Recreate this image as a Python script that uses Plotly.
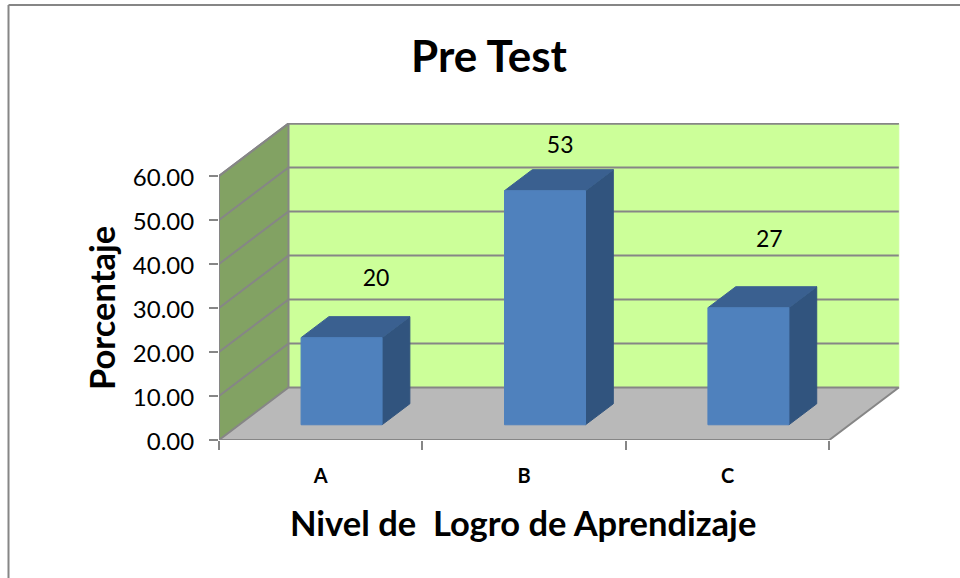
import plotly.graph_objects as go

# ---- data ----
categories = ["A", "B", "C"]
values = [20, 53, 27]
bar_tops = [19.8, 53.2, 26.6]
y_ticks = [0, 10, 20, 30, 40, 50, 60]

# ---- geometry / style ----
W, H = 960, 578
L, R, T, B = 219, 900, 123, 440
UX = (829.3 - 219) / 3
UY = (439 - 175) / 60
DX, DY = 69.5 / UX, 52.5 / UY
BAR_W = 81 / UX
BAR_DEPTH = 0.4
BAR_FRONT_X = 0.3
BAR_FRONT_Y = 0.29
N = len(categories)
Y_MAX = max(y_ticks)
GRID = "#868686"
FONT = "Lato"
LABEL_SHIFT = [(0.272, 16.2), (0.177, 13.6), (0.205, 18.1)]


def poly(xs, ys, fill, line=None, width=1):
    return go.Scatter(
        x=xs + xs[:1], y=ys + ys[:1], mode="lines", fill="toself", fillcolor=fill,
        line=dict(color=line or fill, width=width), hoverinfo="skip",
        showlegend=False, cliponaxis=False,
    )


def path(xs, ys, color=GRID, width=2):
    return go.Scatter(
        x=xs, y=ys, mode="lines", line=dict(color=color, width=width),
        hoverinfo="skip", showlegend=False, cliponaxis=False,
    )


fig = go.Figure()

# walls and floor
fig.add_trace(poly([DX, N + DX, N + DX, DX], [DY, DY, Y_MAX + DY, Y_MAX + DY], "#CCFF99"))
fig.add_trace(poly([0, DX, DX, 0], [0, DY, Y_MAX + DY, Y_MAX], "#82A263"))
fig.add_trace(poly([0, N, N + DX, DX], [0, 0, DY, DY], "#B9B9B9"))

# gridlines on the side wall and the back wall
for t in y_ticks[1:]:
    fig.add_trace(path([0, DX, N + DX], [t, t + DY, t + DY]))

# frame edges
fig.add_trace(path([0, 0, DX, DX], [0, Y_MAX, Y_MAX + DY, DY]))
fig.add_trace(path([DX, N + DX], [Y_MAX + DY, Y_MAX + DY]))
fig.add_trace(path([0, DX, N + DX, N], [0, DY, DY, 0]))
fig.add_trace(path([0, N], [0, 0]))

# bars
fx = BAR_FRONT_X * DX
fy = BAR_FRONT_Y * DY
bx = BAR_DEPTH * DX
by = BAR_DEPTH * DY
for i, top in enumerate(bar_tops):
    x0 = i + 0.5 - BAR_W / 2 + fx
    x1 = x0 + BAR_W
    y0 = fy
    y1 = top + fy
    fig.add_trace(poly([x1, x1 + bx, x1 + bx, x1], [y0, y0 + by, y1 + by, y1], "#31547E"))
    fig.add_trace(poly([x0, x1, x1 + bx, x0 + bx], [y1, y1, y1 + by, y1 + by], "#3A6090"))
    fig.add_trace(poly([x0, x1, x1, x0], [y0, y0, y1, y1], "#4F81BD"))

# value labels
fig.add_trace(go.Scatter(
    x=[i + 0.5 + LABEL_SHIFT[i][0] for i in range(N)],
    y=[v + LABEL_SHIFT[i][1] for i, v in enumerate(values)],
    mode="text", text=[str(v) for v in values],
    textfont=dict(family=FONT, size=23, color="#000000"),
    hoverinfo="skip", showlegend=False, cliponaxis=False,
))


def px(v):
    return (v - L) / (R - L)


def py(v):
    return (B - v) / (B - T)


border = dict(type="line", xref="paper", yref="paper", layer="above",
              line=dict(color="#868686", width=2))

fig.update_layout(
    width=W, height=H, autosize=False,
    margin=dict(l=L, r=W - R, t=T, b=H - B),
    paper_bgcolor="#FFFFFF", plot_bgcolor="rgba(0,0,0,0)",
    font=dict(family=FONT, color="#000000"),
    showlegend=False,
    title=dict(text="<b>Pre Test</b>", x=px(489), xanchor="center", xref="paper",
               y=1 - 57 / H, yanchor="middle", yref="container",
               font=dict(family=FONT, size=44, color="#000000")),
    xaxis=dict(
        range=[0, (R - L) / UX], showgrid=False, zeroline=False, showline=False,
        tickmode="array", tickvals=[i + 0.5 for i in range(N)],
        ticktext=[f"<b>{c}</b>" for c in categories], ticks="", ticklabelstandoff=22,
        tickfont=dict(family=FONT, size=20, color="#000000"),
        minor=dict(tickmode="array", tickvals=list(range(N + 1)), ticks="outside",
                   ticklen=9, tickwidth=2, tickcolor=GRID, showgrid=False),
    ),
    yaxis=dict(
        range=[0, (B - T) / UY], showgrid=False, zeroline=False, showline=False,
        tickmode="array", tickvals=y_ticks, ticktext=[f"{t:.2f}" for t in y_ticks],
        ticks="outside", ticklen=9, tickwidth=2, tickcolor=GRID, ticklabelstandoff=10,
        ticklabelshift=2,
        tickfont=dict(family=FONT, size=24, color="#000000"),
    ),
    annotations=[
        dict(text="<b>Nivel de\u00a0 Logro de Aprendizaje</b>", xref="paper", yref="paper",
             x=px(523), y=py(522), xanchor="center", yanchor="middle", showarrow=False,
             font=dict(family=FONT, size=34.5, color="#000000")),
        dict(text="<b>Porcentaje</b>", xref="paper", yref="paper",
             x=px(101), y=py(308), xanchor="center", yanchor="middle", showarrow=False,
             textangle=-90, font=dict(family=FONT, size=34.5, color="#000000")),
    ],
    shapes=[
        dict(border, x0=px(8.5), x1=px(960), y0=py(5), y1=py(5)),
        dict(border, x0=px(8.5), x1=px(8.5), y0=py(5), y1=py(578)),
    ],
)

fig.write_html("out.html", config={"displayModeBar": False},
               post_script="document.body.style.margin='0';")
